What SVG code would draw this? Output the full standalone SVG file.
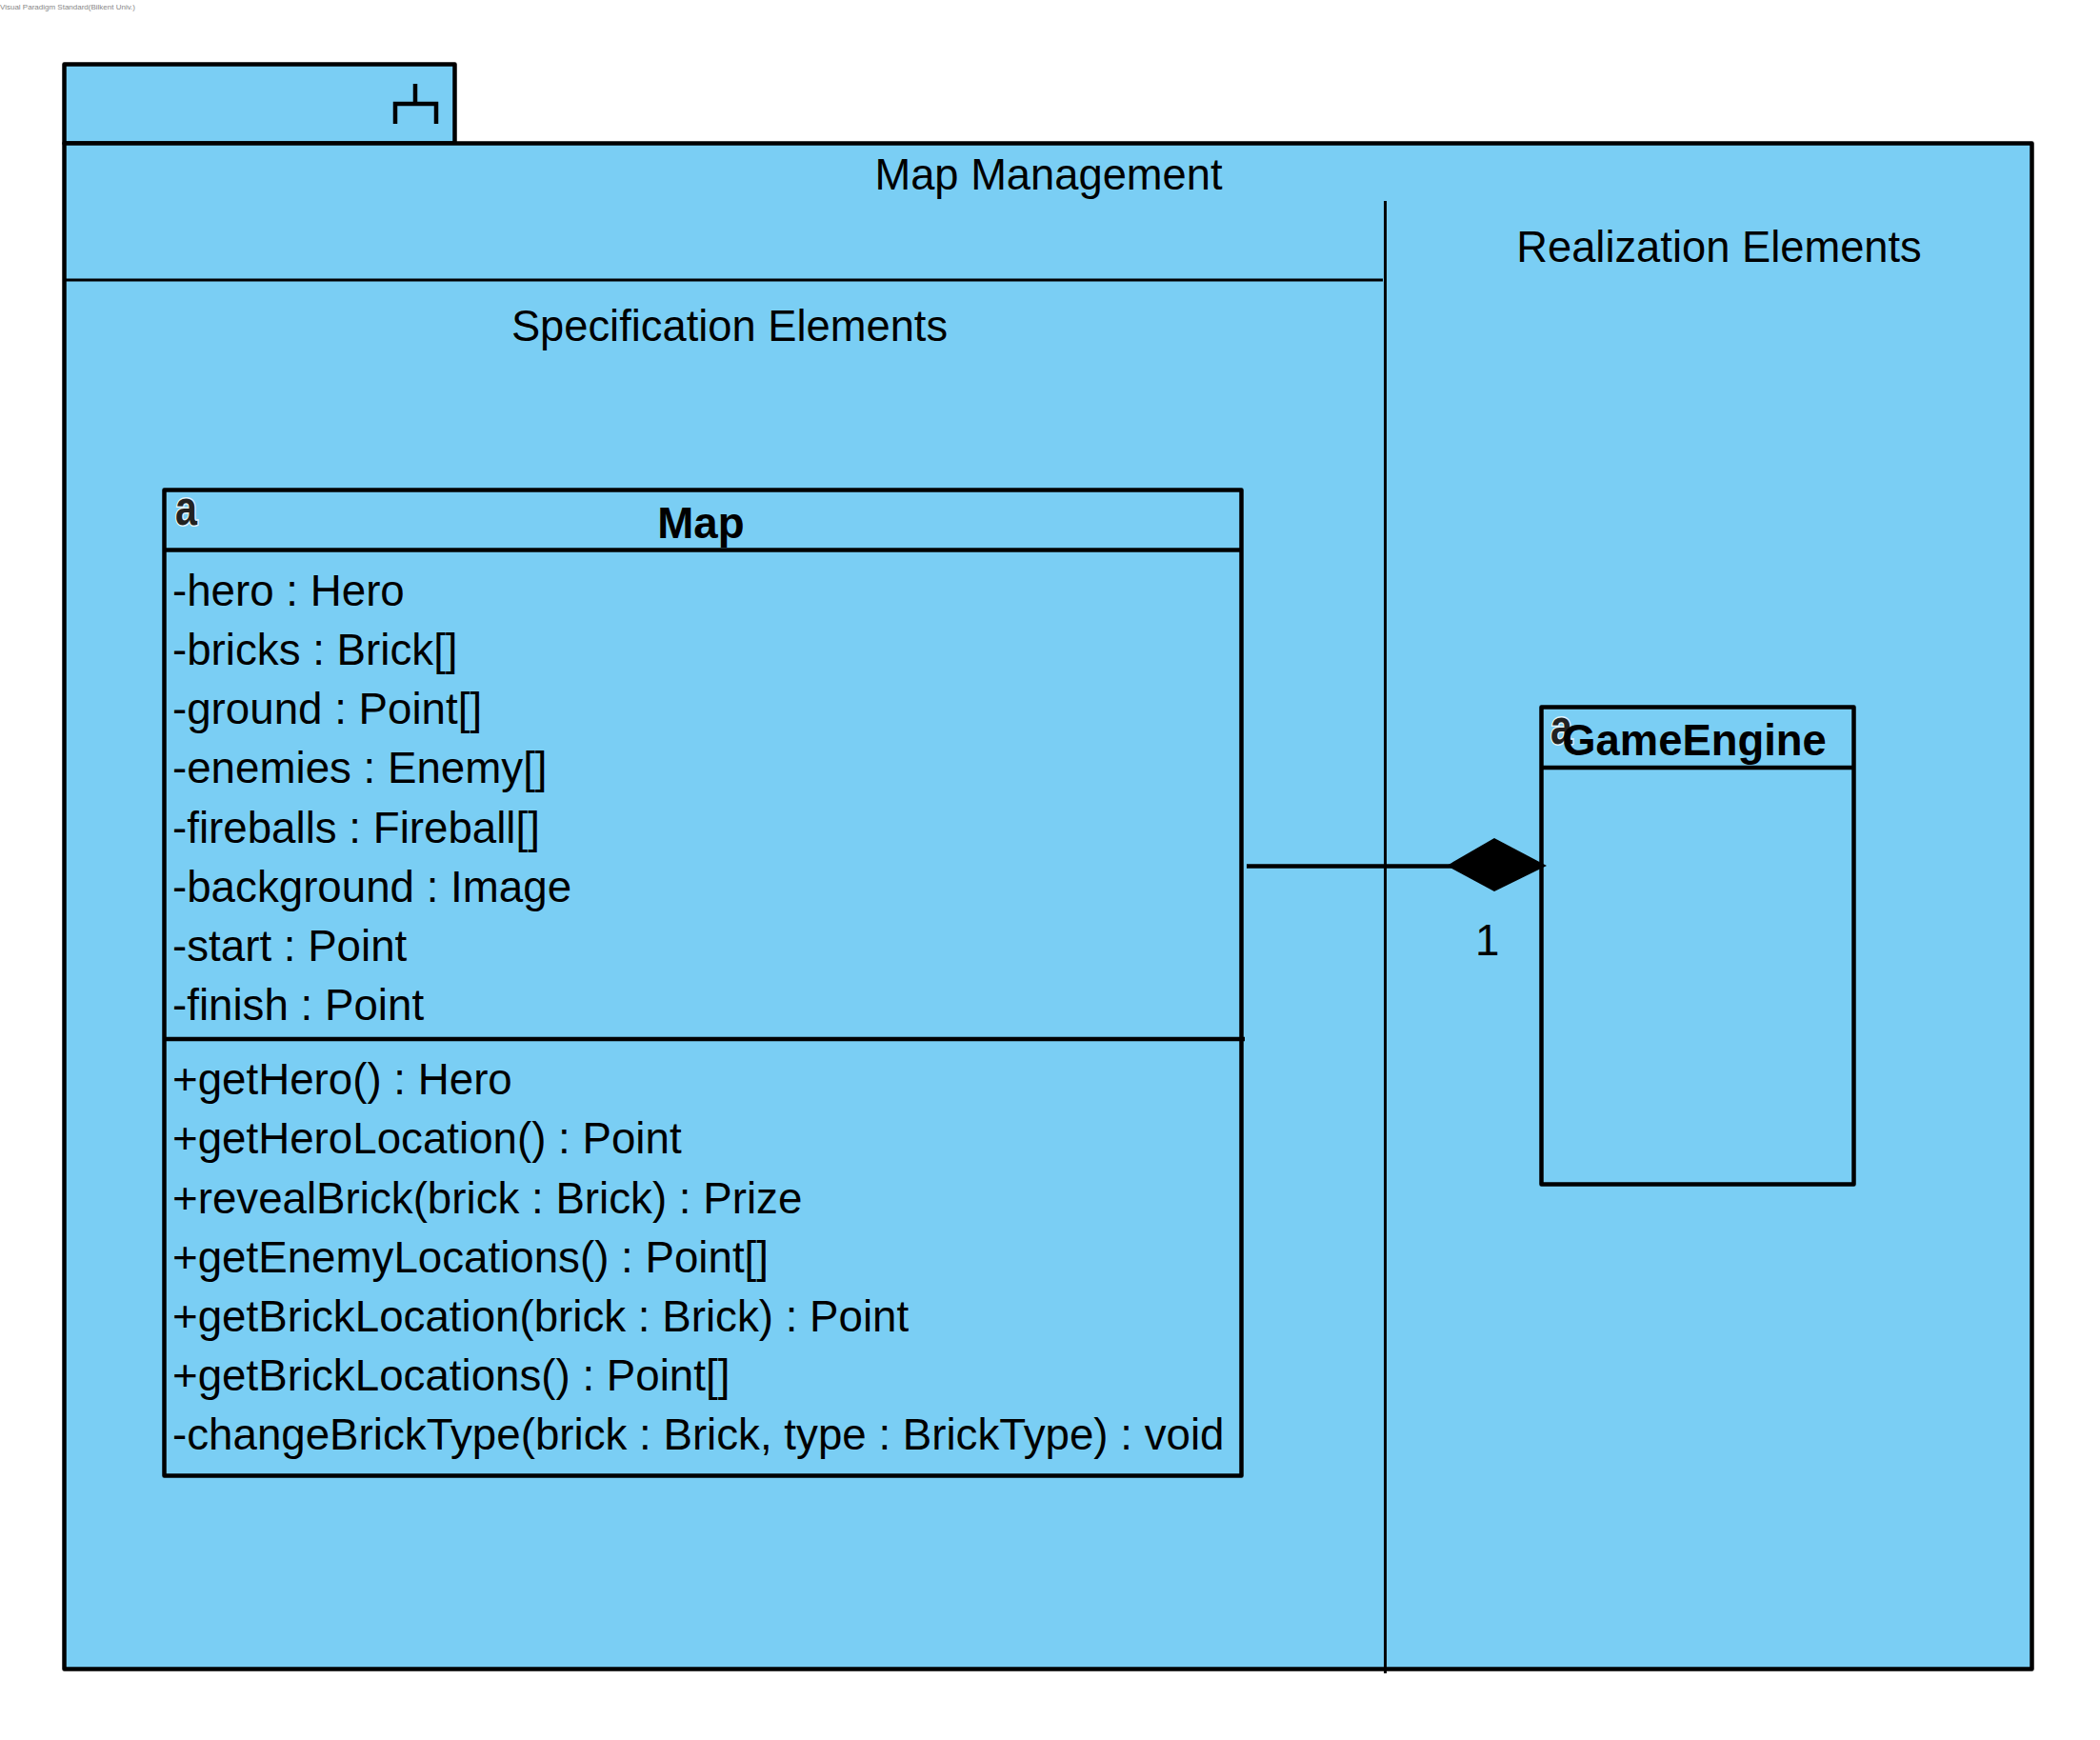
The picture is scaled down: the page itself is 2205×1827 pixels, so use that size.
<svg xmlns="http://www.w3.org/2000/svg" width="2205" height="1827" viewBox="0 0 2205 1827">
<style>
text{font-family:"Liberation Sans",Arial,sans-serif;fill:#000;font-size:45.7px}
.t{font-size:45.3px}
.b{font-weight:bold}
.m{text-anchor:middle}
.box{fill:#7ACEF4;stroke:#000;stroke-width:4.500;stroke-linejoin:round}
.ln{fill:none;stroke:#000;stroke-width:4.500}
.th{fill:none;stroke:#000;stroke-width:3}
.ic{font-weight:bold;font-size:52px;fill:#222;paint-order:stroke;stroke:#fff;stroke-width:3;stroke-opacity:.8}
</style>
<rect width="2205" height="1827" fill="#fff"/>
<text x="0" y="9.500" style="font-size:8px;fill:#888">Visual Paradigm Standard(Bilkent Univ.)</text>
<g id="package-map-management">
<rect class="box" x="67.5" y="67.5" width="410" height="83"/>
<rect class="box" x="67.5" y="150.5" width="2066" height="1602"/>
<path class="ln" d="M436 88V109M415 130V109H458V130"/>
<text class="m t" x="1101" y="199">Map Management</text>
<path class="th" d="M67 294H1452M1454.5 211V1757"/>
<text class="m t" x="766" y="357.500">Specification Elements</text>
<text class="m t" x="1805" y="274.500">Realization Elements</text>
</g>
<g id="class-map">
<rect class="box" x="172.5" y="514.5" width="1131" height="1035"/>
<path class="ln" d="M172 577.5H1304"/>
<path class="ln" d="M172 1091H1307"/>
<text class="ic" x="184" y="551" textLength="23" lengthAdjust="spacingAndGlyphs">a</text>
<text class="b m" x="736" y="565">Map</text>
<text x="181" y="636">-hero : Hero</text>
<text x="181" y="698">-bricks : Brick[]</text>
<text x="181" y="760">-ground : Point[]</text>
<text x="181" y="822">-enemies : Enemy[]</text>
<text x="181" y="884.500">-fireballs : Fireball[]</text>
<text x="181" y="946.500">-background : Image</text>
<text x="181" y="1009">-start : Point</text>
<text x="181" y="1071">-finish : Point</text>
<text x="181" y="1149">+getHero() : Hero</text>
<text x="181" y="1211">+getHeroLocation() : Point</text>
<text x="181" y="1273.500">+revealBrick(brick : Brick) : Prize</text>
<text x="181" y="1335.500">+getEnemyLocations() : Point[]</text>
<text x="181" y="1397.500">+getBrickLocation(brick : Brick) : Point</text>
<text x="181" y="1459.500">+getBrickLocations() : Point[]</text>
<text x="181" y="1521.500">-changeBrickType(brick : Brick, type : BrickType) : void</text>
</g>
<g id="class-gameengine">
<rect class="box" x="1618.5" y="742.5" width="328" height="501"/>
<path class="ln" d="M1618 806H1947"/>
<text class="ic" x="1628" y="781" textLength="23" lengthAdjust="spacingAndGlyphs">a</text>
<text class="b m" x="1779" y="793" style="font-size:45.4px">GameEngine</text>
</g>
<g id="connectors">
<path class="ln" d="M1309 909.500H1525"/>
<polygon points="1519,909 1569,880 1624,909 1569,936" fill="#000"/>
<text x="1549" y="1003">1</text>
</g>
</svg>
